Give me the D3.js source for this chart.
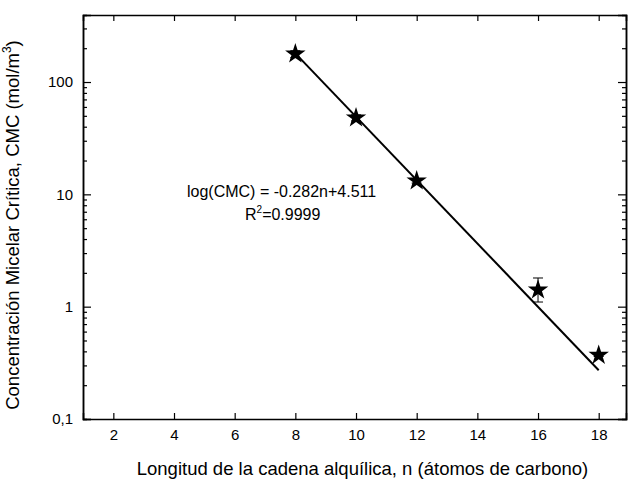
<!DOCTYPE html>
<html><head><meta charset="utf-8">
<script src="https://cdn.jsdelivr.net/npm/d3@7"></script>
<style>body{margin:0;background:#fff}text{font-family:"Liberation Sans",Arial,sans-serif;fill:#000}</style>
</head><body><div id="chart"></div>
<script>
const nValues = [8, 10, 12, 16, 18];
const cmcValues = [178, 48, 13.2, 1.41, 0.37];
const errLow = [165, 45, 12.6, 1.1, 0.36];
const errHigh = [190, 51, 13.8, 1.8, 0.38];
const fitN = [8, 18];
const fitCmc = [180, 0.272];
const xTicks = [2, 4, 6, 8, 10, 12, 14, 16, 18];
const yTicks = [0.1, 1, 10, 100];
const yTickLabels = ['0,1', '1', '10', '100'];

const W = 630, H = 481;
const margin = {top: 15, right: 4, bottom: 62, left: 83};
const width = W - margin.left - margin.right;
const height = H - margin.top - margin.bottom;

const x = d3.scaleLinear().domain([1, 18.9]).range([0, width]);
const y = d3.scaleLog().domain([0.1, 395]).range([height, 0]);

const svg = d3.select('#chart').append('svg').attr('width', W).attr('height', H)
  .append('g').attr('transform', `translate(${margin.left},${margin.top})`);

const minor = [];
[0.1, 1, 10, 100].forEach(d => { for (let k = 2; k <= 9; k++) if (d * k <= 395) minor.push(d * k); });

const axes = [
  [d3.axisBottom(x).tickValues(xTicks).tickSize(-6).tickPadding(10), `translate(0,${height})`],
  [d3.axisTop(x).tickValues(xTicks).tickSize(-6).tickFormat(''), 'translate(0,0)'],
  [d3.axisLeft(y).tickValues(yTicks).tickSize(-8).tickPadding(10).tickFormat((d, i) => yTickLabels[i]), 'translate(0,0)'],
  [d3.axisRight(y).tickValues(yTicks).tickSize(-8).tickFormat(''), `translate(${width},0)`],
  [d3.axisLeft(y).tickValues(minor).tickSize(-4).tickFormat(''), 'translate(0,0)'],
  [d3.axisRight(y).tickValues(minor).tickSize(-4).tickFormat(''), `translate(${width},0)`],
];
axes.forEach(([ax, tr]) => {
  const g = svg.append('g').attr('transform', tr).call(ax);
  g.selectAll('path').attr('stroke', '#000').attr('stroke-width', 1.5);
  g.selectAll('line').attr('stroke', '#000').attr('stroke-width', 1.2);
  g.selectAll('text').attr('font-size', 15);
});

svg.append('path').datum(fitN.map((n, i) => [n, fitCmc[i]]))
  .attr('d', d3.line().x(d => x(d[0])).y(d => y(d[1])))
  .attr('stroke', '#000').attr('stroke-width', 2).attr('fill', 'none');

const eb = svg.selectAll('.eb').data(nValues).enter().append('g').attr('stroke', '#000').attr('stroke-width', 1);
eb.append('line').attr('x1', d => x(d)).attr('x2', d => x(d))
  .attr('y1', (d, i) => y(errLow[i])).attr('y2', (d, i) => y(errHigh[i]));
eb.append('line').attr('x1', d => x(d) - 5).attr('x2', d => x(d) + 5)
  .attr('y1', (d, i) => y(errLow[i])).attr('y2', (d, i) => y(errLow[i]));
eb.append('line').attr('x1', d => x(d) - 5).attr('x2', d => x(d) + 5)
  .attr('y1', (d, i) => y(errHigh[i])).attr('y2', (d, i) => y(errHigh[i]));

svg.selectAll('.star').data(nValues).enter().append('path')
  .attr('d', d3.symbol(d3.symbolStar, 130))
  .attr('transform', (d, i) => `translate(${x(d)},${y(cmcValues[i])})`)
  .attr('fill', '#000');

const ann = svg.append('g').attr('font-size', 16);
ann.append('text').attr('x', 104).attr('y', 182).text('log(CMC) = -0.282n+4.511');
const r2 = ann.append('text').attr('x', 162).attr('y', 205);
r2.append('tspan').text('R');
r2.append('tspan').attr('font-size', 10).attr('dy', -7).text('2');
r2.append('tspan').attr('dy', 7).text('=0.9999');

svg.append('text').attr('x', width / 2 + 8).attr('y', height + 56).attr('text-anchor', 'middle')
  .attr('font-size', 18.5).text('Longitud de la cadena alquílica, n (átomos de carbono)');
const yl = svg.append('text').attr('transform', `translate(-64,${height / 2 + 8}) rotate(-90)`)
  .attr('text-anchor', 'middle').attr('font-size', 18.5);
yl.append('tspan').text('Concentración Micelar Crítica, CMC (mol/m');
yl.append('tspan').attr('font-size', 12).attr('dy', -8).text('3');
yl.append('tspan').attr('dy', 8).text(')');
</script></body></html>
